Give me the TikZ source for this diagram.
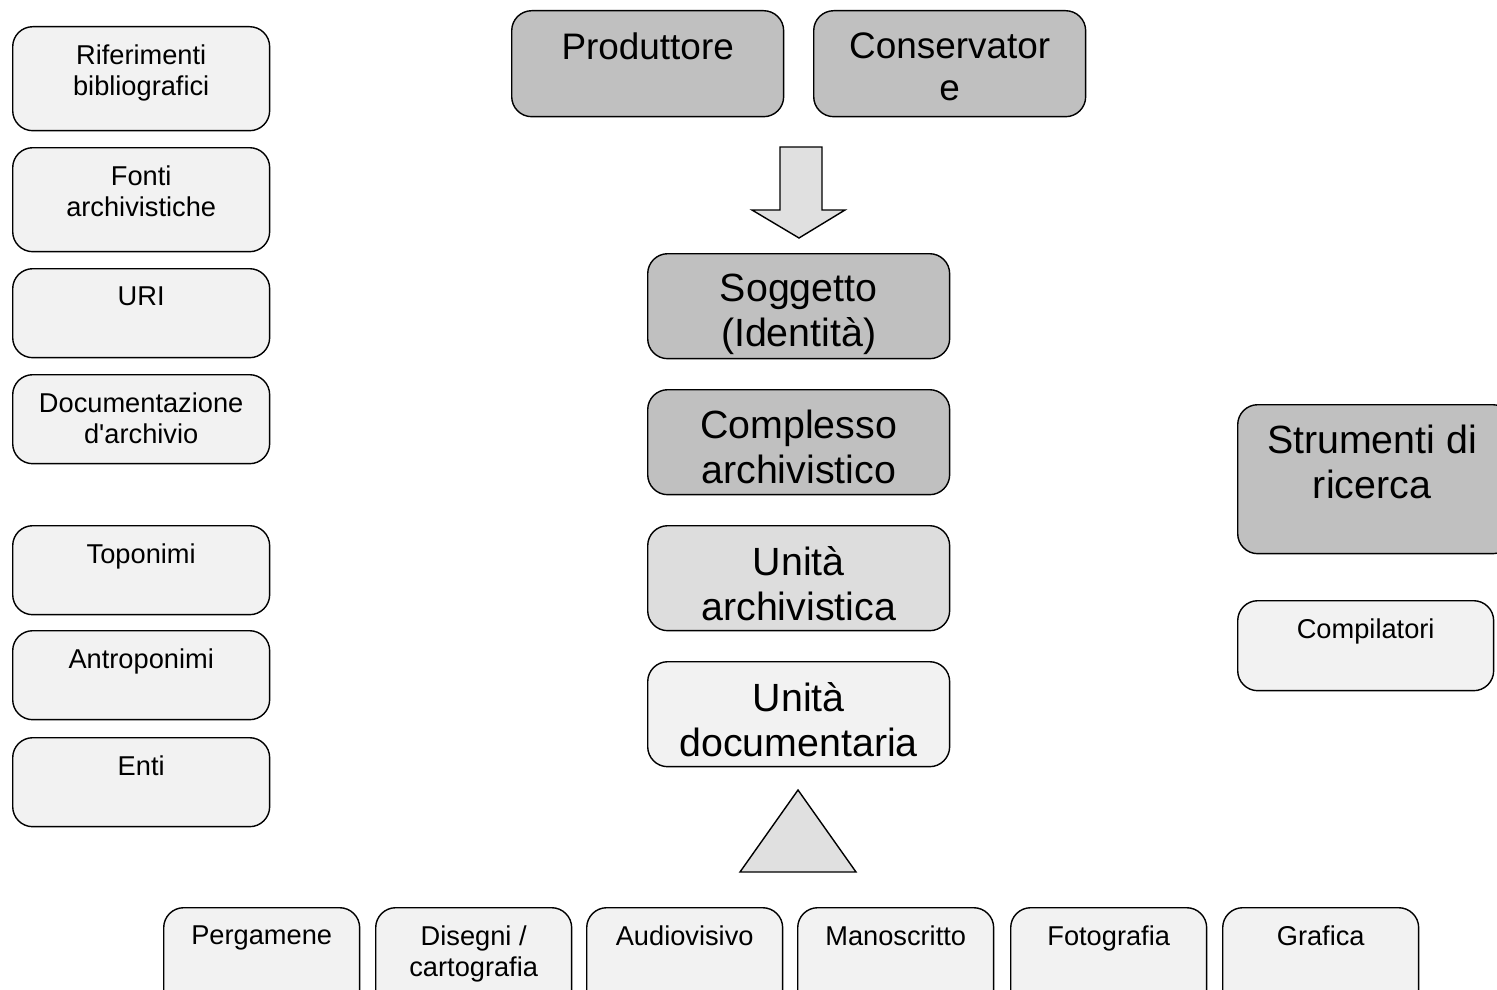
\documentclass[tikz,border=0pt]{standalone}
\usepackage{fontspec}
\setmainfont{Liberation Sans}
\definecolor{grigioscuro}{HTML}{C0C0C0}
\definecolor{grigiomedio}{HTML}{DDDDDD}
\definecolor{grigiochiaro}{HTML}{F2F2F2}
\definecolor{grigiofreccia}{HTML}{E0E0E0}
\tikzset{
  scatola/.style={draw,line width=0.8pt,rounded corners=0.4cm,anchor=north west,inner sep=0pt},
  piccola/.style={scatola,fill=grigiochiaro,minimum width=5.14cm},
  centrale/.style={scatola,minimum width=6.04cm,minimum height=2.1cm},
  fondo/.style={scatola,fill=grigiochiaro,minimum width=3.92cm,minimum height=2.2cm},
  testop/.style={anchor=north,inner sep=0pt,align=center,yshift=-0.37cm,font=\fontsize{15.5}{17.6}\selectfont},
  testog/.style={anchor=north,inner sep=0pt,align=center,yshift=-0.42cm,font=\fontsize{22.4}{25.5}\selectfont},
  testoa/.style={anchor=north,inner sep=0pt,align=center,yshift=-0.45cm,font=\fontsize{21}{23.8}\selectfont}
}
\begin{document}
\begin{tikzpicture}[x=0.02cm,y=-0.02cm]
		\useasboundingbox (0,0) rectangle (1497,990);
		% colonna sinistra
		\foreach \y/\h/\nm/\t in {26/2.08/rif/{Riferimenti\\bibliografici},147/2.08/fonti/{Fonti\\archivistiche},268/1.78/uri/URI,374/1.78/doc/{Documentazione\\d\textquotesingle archivio},525/1.78/topo/Toponimi,630/1.78/antro/Antroponimi,737/1.78/enti/Enti}
		{\node[piccola,minimum height=\h cm] (\nm) at (12,\y) {};
		 \node[testop] at (\nm.north) {\t};}
		% produttore e conservatore
		\node[scatola,fill=grigioscuro,minimum width=5.44cm,minimum height=2.12cm] (prod) at (511,10) {};
		\node[testoa] at (prod.north) {Produttore};
		\node[scatola,fill=grigioscuro,minimum width=5.44cm,minimum height=2.12cm] (cons) at (813,10) {};
		\node[testoa] at (cons.north) {Conservator\\e};
		% freccia
		\draw[line width=0.8pt,fill=grigiofreccia] (780,147)--(822,147)--(822,210)--(845,210)--(799,238)--(752,210)--(780,210)--cycle;
		% colonna centrale
		\node[centrale,fill=grigioscuro] (sog) at (647,253) {};
		\node[testog] at (sog.north) {Soggetto\\(Identità)};
		\node[centrale,fill=grigioscuro] (comp) at (647,389) {};
		\node[testog] at (comp.north) {Complesso\\archivistico};
		\node[centrale,fill=grigiomedio] (ua) at (647,525) {};
		\node[testog] at (ua.north) {Unità\\archivistica};
		\node[centrale,fill=grigiochiaro] (ud) at (647,661) {};
		\node[testog] at (ud.north) {Unità\\documentaria};
		% triangolo
		\draw[line width=0.8pt,fill=grigiofreccia] (740,872)--(798,790)--(856,872)--cycle;
		% destra
		\node[scatola,fill=grigioscuro,minimum width=5.5cm,minimum height=2.98cm] (strum) at (1237,404) {};
		\node[testog] at (1372,404) {Strumenti di\\ricerca};
		\node[piccola,minimum width=5.12cm,minimum height=1.8cm] (compil) at (1237,600) {};
		\node[testop] at (compil.north) {Compilatori};
		% tipologie
		\foreach \x/\nm/\t in {163/perg/Pergamene,375/dis/{Disegni /\\cartografia},586/audio/Audiovisivo,797/mano/Manoscritto,1010/foto/Fotografia,1222/graf/Grafica}
		{\node[fondo] (\nm) at (\x,907) {};
		 \node[testop] at (\nm.north) {\t};}
\end{tikzpicture}
\end{document}
